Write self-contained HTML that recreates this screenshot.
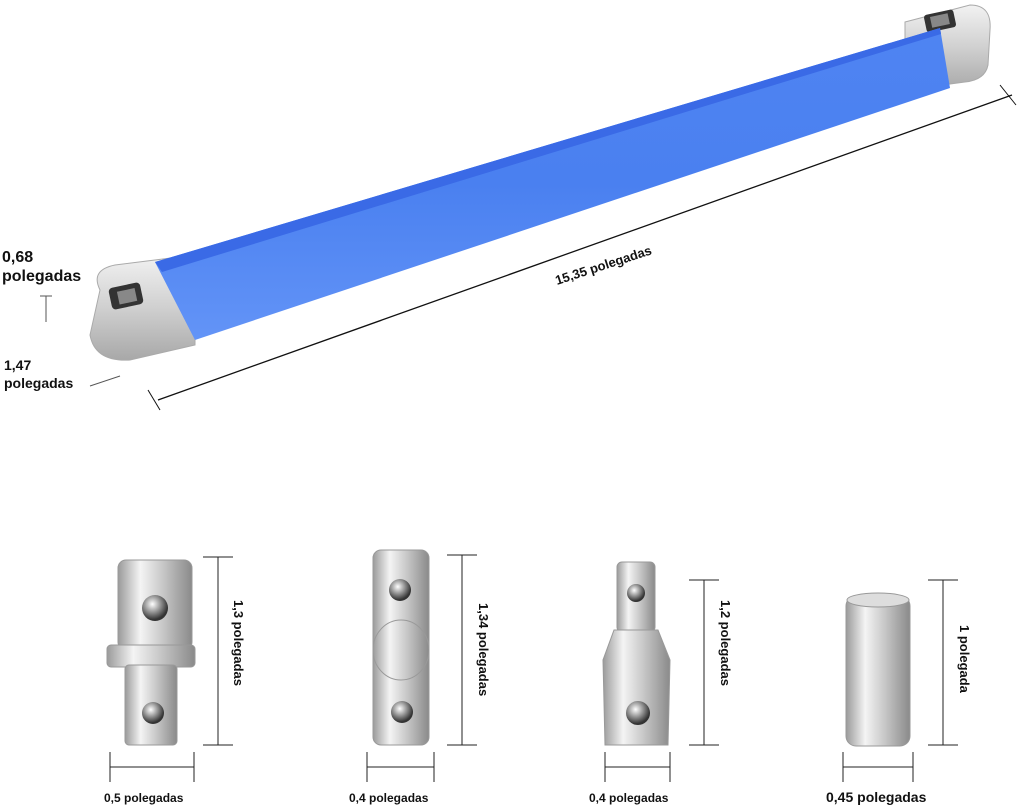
<!DOCTYPE html>
<html><head><meta charset="utf-8"><style>
body{margin:0;background:#fff;width:1024px;height:810px;overflow:hidden}
svg{display:block}
text{font-family:"Liberation Sans",sans-serif;font-weight:bold;fill:#111}
</style></head><body>
<svg width="1024" height="810" viewBox="0 0 1024 810">
<defs>
<linearGradient id="s" x1="0" x2="1"><stop offset="0" stop-color="#9a9a9a"/><stop offset=".3" stop-color="#f4f4f4"/><stop offset=".6" stop-color="#c8c8c8"/><stop offset="1" stop-color="#8a8a8a"/></linearGradient>
<linearGradient id="sv" x1="0" y1="0" x2="0" y2="1"><stop offset="0" stop-color="#f2f2f2"/><stop offset=".5" stop-color="#d0d0d0"/><stop offset="1" stop-color="#a8a8a8"/></linearGradient>
<linearGradient id="b" x1="0" y1="0" x2="0" y2="1"><stop offset="0" stop-color="#4f84f2"/><stop offset=".5" stop-color="#4a80f0"/><stop offset="1" stop-color="#6394f7"/></linearGradient>
<radialGradient id="ball" cx=".4" cy=".35" r=".6"><stop offset="0" stop-color="#fff"/><stop offset=".5" stop-color="#999"/><stop offset="1" stop-color="#333"/></radialGradient>
</defs>
<!-- bar caps -->
<path d="M100,290 Q90,270 115,265 L195,255 L195,345 L130,360 Q95,362 90,335 Z" fill="url(#sv)" stroke="#aaa"/>
<path d="M905,22 L970,5 Q992,5 990,30 L988,65 Q985,80 965,82 L905,90 Z" fill="url(#sv)" stroke="#aaa"/>
<rect x="110" y="285" width="32" height="22" rx="4" fill="#333" transform="rotate(-12 126 296)"/>
<rect x="118" y="290" width="18" height="13" fill="#888" transform="rotate(-12 126 296)"/>
<rect x="925" y="12" width="30" height="18" rx="3" fill="#333" transform="rotate(-12 940 21)"/>
<rect x="931" y="15" width="18" height="11" fill="#888" transform="rotate(-12 940 21)"/>
<!-- blue bar -->
<path d="M155,262 L940,28 L950,88 L195,340 Z" fill="url(#b)"/>
<path d="M155,262 L940,28 L941,34 L162,272 Z" fill="#3a6ae6"/>
<!-- dims -->
<line x1="158" y1="400" x2="1012" y2="95" stroke="#111" stroke-width="1.3"/>
<line x1="148" y1="390" x2="160" y2="410" stroke="#111"/>
<line x1="1000" y1="85" x2="1016" y2="105" stroke="#111"/>
<text x="0" y="0" font-size="13" transform="translate(557,285) rotate(-18)">15,35 polegadas</text>
<text x="2" y="262" font-size="16">0,68</text>
<text x="2" y="281" font-size="16">polegadas</text>
<line x1="46" y1="296" x2="46" y2="322" stroke="#555"/>
<line x1="40" y1="296" x2="52" y2="296" stroke="#555"/>
<text x="4" y="370" font-size="14">1,47</text>
<text x="4" y="388" font-size="14">polegadas</text>
<line x1="90" y1="386" x2="120" y2="376" stroke="#555"/>
<!-- part 1 -->
<rect x="118" y="560" width="74" height="90" rx="8" fill="url(#s)" stroke="#999"/>
<rect x="107" y="645" width="88" height="22" rx="4" fill="url(#s)" stroke="#999"/>
<rect x="125" y="665" width="52" height="80" rx="4" fill="url(#s)" stroke="#999"/>
<circle cx="155" cy="608" r="13" fill="url(#ball)"/><circle cx="153" cy="713" r="11" fill="url(#ball)"/>
<line x1="218" y1="557" x2="218" y2="745" stroke="#222"/><line x1="203" y1="557" x2="233" y2="557" stroke="#222"/><line x1="203" y1="745" x2="233" y2="745" stroke="#222"/>
<text font-size="13" transform="translate(234,600) rotate(90)">1,3 polegadas</text>
<line x1="110" y1="767" x2="194" y2="767" stroke="#222"/><line x1="110" y1="752" x2="110" y2="782" stroke="#222"/><line x1="194" y1="752" x2="194" y2="782" stroke="#222"/>
<text x="104" y="802" font-size="12">0,5 polegadas</text>
<!-- part 2 -->
<rect x="373" y="550" width="56" height="195" rx="8" fill="url(#s)" stroke="#999"/>
<ellipse cx="401" cy="650" rx="28" ry="30" fill="url(#s)" stroke="#999"/>
<circle cx="400" cy="590" r="11" fill="url(#ball)"/><circle cx="402" cy="712" r="11" fill="url(#ball)"/>
<line x1="462" y1="555" x2="462" y2="745" stroke="#222"/><line x1="447" y1="555" x2="477" y2="555" stroke="#222"/><line x1="447" y1="745" x2="477" y2="745" stroke="#222"/>
<text font-size="13" transform="translate(479,603) rotate(90)">1,34 polegadas</text>
<line x1="367" y1="767" x2="434" y2="767" stroke="#222"/><line x1="367" y1="752" x2="367" y2="782" stroke="#222"/><line x1="434" y1="752" x2="434" y2="782" stroke="#222"/>
<text x="349" y="802" font-size="12">0,4 polegadas</text>
<!-- part 3 -->
<rect x="617" y="562" width="38" height="70" rx="5" fill="url(#s)" stroke="#999"/>
<path d="M614,630 L658,630 L670,660 L668,745 L605,745 L603,660 Z" fill="url(#s)" stroke="#999"/>
<circle cx="636" cy="593" r="9" fill="url(#ball)"/><circle cx="638" cy="713" r="12" fill="url(#ball)"/>
<line x1="704" y1="580" x2="704" y2="745" stroke="#222"/><line x1="689" y1="580" x2="719" y2="580" stroke="#222"/><line x1="689" y1="745" x2="719" y2="745" stroke="#222"/>
<text font-size="13" transform="translate(721,600) rotate(90)">1,2 polegadas</text>
<line x1="605" y1="767" x2="670" y2="767" stroke="#222"/><line x1="605" y1="752" x2="605" y2="782" stroke="#222"/><line x1="670" y1="752" x2="670" y2="782" stroke="#222"/>
<text x="589" y="802" font-size="12">0,4 polegadas</text>
<!-- part 4 -->
<rect x="846" y="596" width="64" height="150" rx="10" fill="url(#s)" stroke="#999"/>
<ellipse cx="878" cy="600" rx="31" ry="7" fill="#ddd" stroke="#999"/>
<line x1="943" y1="580" x2="943" y2="745" stroke="#222"/><line x1="928" y1="580" x2="958" y2="580" stroke="#222"/><line x1="928" y1="745" x2="958" y2="745" stroke="#222"/>
<text font-size="13" transform="translate(960,625) rotate(90)">1 polegada</text>
<line x1="843" y1="767" x2="913" y2="767" stroke="#222"/><line x1="843" y1="752" x2="843" y2="782" stroke="#222"/><line x1="913" y1="752" x2="913" y2="782" stroke="#222"/>
<text x="826" y="802" font-size="14">0,45 polegadas</text>
</svg>
</body></html>
